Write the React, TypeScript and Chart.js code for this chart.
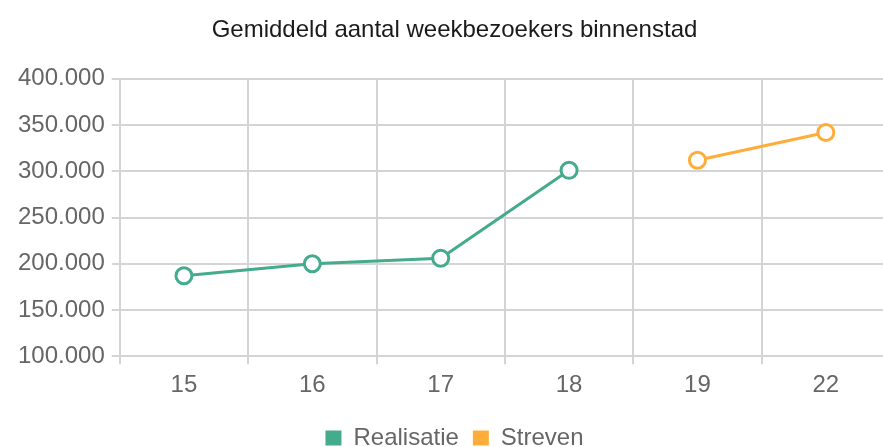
import React, { useEffect, useRef } from "react";
import { Chart, registerables } from "chart.js";

Chart.register(...registerables);

const weeks = ["15", "16", "17", "18", "19", "22"];
const realisatie = [187000, 200000, 206000, 301000, null, null];
const streven = [null, null, null, null, 312000, 342000];
const chartTitle = "Gemiddeld aantal weekbezoekers binnenstad";

const green = "#45ab8d";
const orange = "#ffad3a";
const FONT = "'Liberation Sans', Arial, sans-serif";

export default function App() {
  const ref = useRef<HTMLCanvasElement>(null);
  useEffect(() => {
    const fmt = (v: number) => v.toLocaleString("nl-NL");
    const mk = (label: string, data: (number | null)[], color: string) => ({
      label,
      data,
      borderColor: color,
      backgroundColor: color,
      pointBackgroundColor: "#fff",
      pointBorderColor: color,
      pointRadius: 8,
      pointBorderWidth: 3,
      borderWidth: 3,
    });
    const chart = new Chart(ref.current!, {
      type: "line",
      data: {
        labels: weeks,
        datasets: [mk("Realisatie", realisatie, green), mk("Streven", streven, orange)],
      },
      options: {
        animation: false,
        responsive: false,
        devicePixelRatio: 1,
        layout: { padding: { left: 11, right: 3, top: 0, bottom: 0 } },
        plugins: {
          title: {
            display: true,
            text: chartTitle,
            color: "#1a1a1a",
            font: { family: FONT, size: 24, weight: "normal" },
            padding: { top: 16, bottom: 34 },
          },
          legend: {
            position: "bottom",
            labels: {
              boxWidth: 16,
              boxHeight: 15,
              color: "#666",
              font: { family: FONT, size: 24 },
              padding: 14,
              generateLabels: (c: any) =>
                c.data.datasets.map((d: any, i: number) => ({
                  text: d.label,
                  fillStyle: d.borderColor,
                  strokeStyle: d.borderColor,
                  lineWidth: 0,
                  datasetIndex: i,
                  fontColor: "#666",
                })),
            },
          },
          tooltip: { enabled: false },
        },
        scales: {
          x: {
            offset: true,
            afterFit: (s: any) => {
              s.height += 5;
            },
            grid: { color: "#d4d4d4", lineWidth: 2, offset: true, tickLength: 8 },
            border: { color: "#d4d4d4", width: 2 },
            ticks: { color: "#666", font: { family: FONT, size: 24 }, padding: 7 },
          },
          y: {
            min: 100000,
            max: 400000,
            grid: { color: "#d4d4d4", lineWidth: 2, tickLength: 8 },
            border: { color: "#d4d4d4", width: 2 },
            ticks: {
              stepSize: 50000,
              color: "#666",
              font: { family: FONT, size: 24 },
              padding: 7,
              callback: (v: any) => fmt(Number(v)),
            },
          },
        },
      },
    });
    return () => chart.destroy();
  }, []);
  return (
    <div style={{ position: "fixed", left: 0, top: 0, width: 883, height: 447, overflow: "hidden", background: "#fff" }}>
      <canvas ref={ref} width={901} height={460} style={{ display: "block", width: 901, height: 460 }} />
    </div>
  );
}
